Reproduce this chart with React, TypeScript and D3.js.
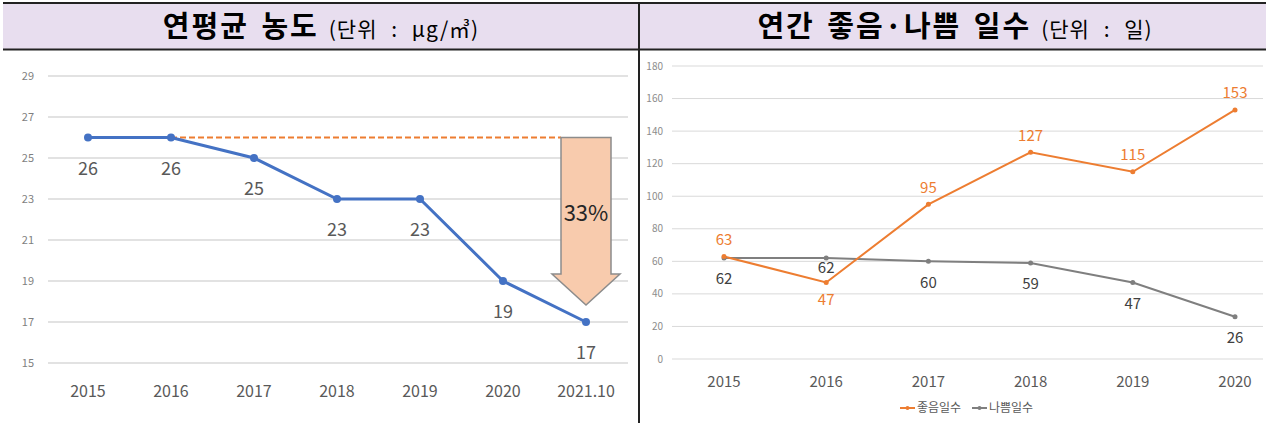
import * as d3 from "d3"

const pmYears = ["2015", "2016", "2017", "2018", "2019", "2020", "2021.10"]
const pmValues = [26, 26, 25, 23, 23, 19, 17]
const pmTicks = [15, 17, 19, 21, 23, 25, 27, 29]
const reductionLabel = "33%"

const dayYears = ["2015", "2016", "2017", "2018", "2019", "2020"]
const goodDays = [63, 47, 95, 127, 115, 153]
const badDays = [62, 62, 60, 59, 47, 26]
const dayTicks = [0, 20, 40, 60, 80, 100, 120, 140, 160, 180]

const leftTitle = "연평균 농도"
const leftUnit = "(단위 : μg/㎥)"
const rightTitle = "연간 좋음·나쁨 일수"
const rightUnit = "(단위 : 일)"
const seriesNames = ["좋음일수", "나쁨일수"]

const W = 1267
const H = 423
const FONT = "'Noto Sans CJK KR', 'Noto Sans', sans-serif"
const BLUE = "#4472c4"
const ORANGE = "#ed7d31"
const GRAY = "#7f7f7f"
const GRID = "#d9d9d9"

function Title({ x, title, unit }: { x: number; title: string; unit: string }) {
  return (
    <text x={x} y={37} textAnchor="middle" fill="#000" style={{ whiteSpace: "pre" }}>
      <tspan fontSize={29} fontWeight="bold" letterSpacing={2} wordSpacing={4}>
        {title}
      </tspan>
      <tspan fontSize={21} dx={10} letterSpacing={1} wordSpacing={8}>
        {unit}
      </tspan>
    </text>
  )
}

export default function App() {
  // left chart scales
  const xL = d3.scalePoint().domain(pmYears).range([88, 586])
  const yL = d3.scaleLinear().domain([15, 29]).range([363, 76])
  const pmLine = d3
    .line<number>()
    .x((_, i) => xL(pmYears[i])!)
    .y((d) => yL(d))

  // right chart scales
  const xR = d3.scalePoint().domain(dayYears).range([724, 1235])
  const yR = d3.scaleLinear().domain([0, 180]).range([359, 66])
  const dayLine = d3
    .line<number>()
    .x((_, i) => xR(dayYears[i])!)
    .y((d) => yR(d))

  // reduction arrow on the last category
  const last = pmYears[pmYears.length - 1]
  const ax = xL(last)!
  const aTop = yL(pmValues[0])
  const aTip = yL(pmValues[pmValues.length - 1]) - 17
  const aHead = aTip - 31
  const arrowPts = [
    [ax - 25, aTop],
    [ax + 25, aTop],
    [ax + 25, aHead],
    [ax + 34, aHead],
    [ax, aTip],
    [ax - 34, aHead],
    [ax - 25, aHead],
  ]

  return (
    <svg
      width={W}
      height={H}
      style={{ position: "absolute", left: 0, top: 0, background: "#fff" }}
      fontFamily={FONT}
    >
      {/* header band */}
      <rect x={3} y={3} width={1263} height={46} fill="#e8deef" />
      <line x1={3} x2={1266} y1={3} y2={3} stroke="#222" strokeWidth={2} />
      <line x1={3} x2={1266} y1={49.5} y2={49.5} stroke="#222" strokeWidth={2} />
      <line x1={639} x2={639} y1={2} y2={H} stroke="#222" strokeWidth={2} />

      <Title x={321} title={leftTitle} unit={leftUnit} />
      <Title x={955} title={rightTitle} unit={rightUnit} />

      {/* left chart */}
      <g>
        {pmTicks.map((t) => (
          <g key={t}>
            <line x1={48} x2={628} y1={yL(t)} y2={yL(t)} stroke={GRID} strokeWidth={1.5} />
            <text x={34} y={yL(t)} dy="0.35em" textAnchor="end" fontSize={11} fill={GRAY}>
              {t}
            </text>
          </g>
        ))}
        {pmYears.map((c) => (
          <text key={c} x={xL(c)} y={397} textAnchor="middle" fontSize={16} fill="#595959">
            {c}
          </text>
        ))}
        <line
          x1={xL(pmYears[1])}
          x2={ax - 25}
          y1={yL(pmValues[1])}
          y2={yL(pmValues[1])}
          stroke={ORANGE}
          strokeWidth={2}
          strokeDasharray="6,3"
        />
        <path d={pmLine(pmValues)!} fill="none" stroke={BLUE} strokeWidth={3} />
        {pmValues.map((v, i) => (
          <g key={i}>
            <circle cx={xL(pmYears[i])} cy={yL(v)} r={4} fill={BLUE} />
            <text x={xL(pmYears[i])} y={yL(v) + 31} dy="0.35em" textAnchor="middle" fontSize={18} fill="#595959">
              {v}
            </text>
          </g>
        ))}
        <polygon
          points={arrowPts.map((p) => p.join(",")).join(" ")}
          fill="#f8cbad"
          stroke="#8c8c8c"
          strokeWidth={1.5}
        />
        <text x={ax} y={(aTop + aHead) / 2 + 8} dy="0.35em" textAnchor="middle" fontSize={22} fill="#262626">
          {reductionLabel}
        </text>
      </g>

      {/* right chart */}
      <g>
        {dayTicks.map((t) => (
          <g key={t}>
            <line x1={672} x2={1263} y1={yR(t)} y2={yR(t)} stroke={GRID} strokeWidth={1} />
            <text x={663} y={yR(t)} dy="0.35em" textAnchor="end" fontSize={10} fill="#8c8c8c">
              {t}
            </text>
          </g>
        ))}
        {dayYears.map((c) => (
          <text key={c} x={xR(c)} y={387} textAnchor="middle" fontSize={15} fill="#595959">
            {c}
          </text>
        ))}
        <path d={dayLine(badDays)!} fill="none" stroke={GRAY} strokeWidth={2} />
        <path d={dayLine(goodDays)!} fill="none" stroke={ORANGE} strokeWidth={2} />
        {badDays.map((v, i) => {
          const under = goodDays[i] < v
          return (
            <g key={"b" + i}>
              <circle cx={xR(dayYears[i])} cy={yR(v)} r={2.5} fill={GRAY} />
              <text
                x={xR(dayYears[i])}
                y={yR(v) + (under ? 10 : 21)}
                dy="0.35em"
                textAnchor="middle"
                fontSize={15}
                fill="#404040"
              >
                {v}
              </text>
            </g>
          )
        })}
        {goodDays.map((v, i) => {
          const under = v < badDays[i]
          return (
            <g key={"g" + i}>
              <circle cx={xR(dayYears[i])} cy={yR(v)} r={2.5} fill={ORANGE} />
              <text
                x={xR(dayYears[i])}
                y={yR(v) + (under ? 17 : -17)}
                dy="0.35em"
                textAnchor="middle"
                fontSize={15}
                fill={ORANGE}
              >
                {v}
              </text>
            </g>
          )
        })}
        {/* legend */}
        {seriesNames.map((name, i) => {
          const lx = 900 + i * 72
          const col = i === 0 ? ORANGE : GRAY
          return (
            <g key={name}>
              <line x1={lx} x2={lx + 15} y1={408} y2={408} stroke={col} strokeWidth={2} />
              <circle cx={lx + 7.5} cy={408} r={2} fill={col} />
              <text x={lx + 17} y={408} dy="0.35em" fontSize={12} fill="#595959">
                {name}
              </text>
            </g>
          )
        })}
      </g>
    </svg>
  )
}
